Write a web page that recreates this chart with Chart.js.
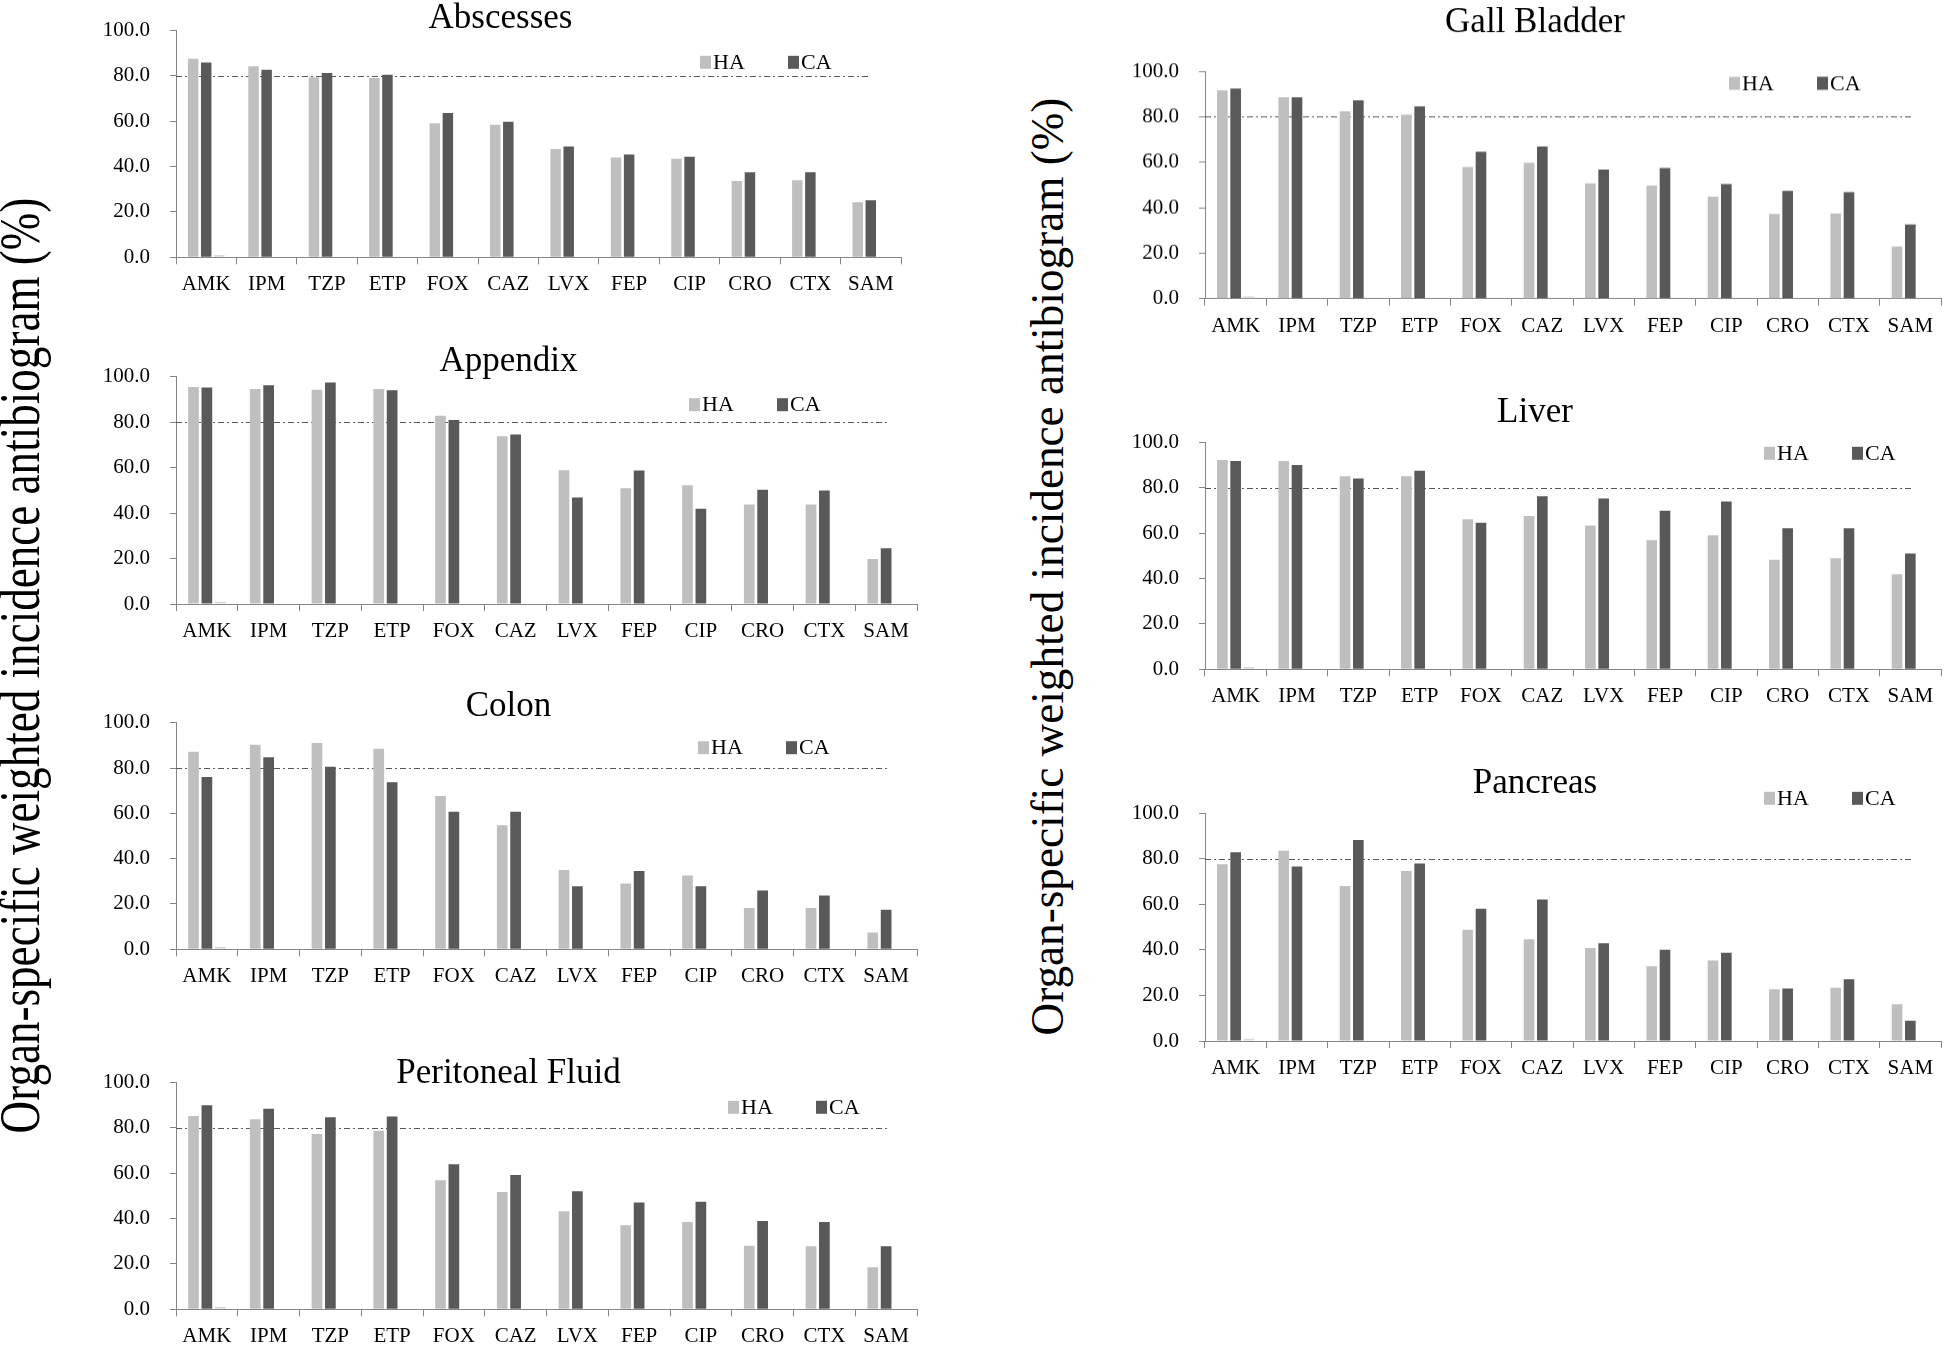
<!DOCTYPE html>
<html>
<head>
<meta charset="utf-8">
<script src="https://cdn.jsdelivr.net/npm/chart.js@4.4.1/dist/chart.umd.min.js"></script>
<style>
    body { margin: 0; width: 1946px; height: 1346px; background: #fff; position: relative; overflow: hidden; }
    .panel { position: absolute; }
    .ytitle { position: absolute; white-space: nowrap; font-family: "Liberation Serif", "Times New Roman", serif; line-height: 1; color: #000; }
</style>
</head>
<body>
<div class="ytitle" id="ytitle-left">Organ-specific weighted incidence antibiogram (%)</div>
<div class="ytitle" id="ytitle-right">Organ-specific weighted incidence antibiogram (%)</div>
<script>
// categories (antibiotics) and tick settings
const categories = ["AMK", "IPM", "TZP", "ETP", "FOX", "CAZ", "LVX", "FEP", "CIP", "CRO", "CTX", "SAM"];
const yMin = 0, yMax = 100, yStep = 20;
const threshold = 80;
const seriesNames = ["HA", "CA"];

// values, % susceptible
const abscessesHA = [87.5, 84.2, 79.3, 79.0, 59.1, 58.4, 47.7, 44.0, 43.4, 33.6, 33.9, 24.3];
const abscessesCA = [85.8, 82.6, 81.2, 80.4, 63.6, 59.7, 48.8, 45.3, 44.3, 37.5, 37.5, 25.1];
const appendixHA = [95.5, 94.6, 94.3, 94.6, 82.8, 73.8, 58.8, 50.9, 52.2, 43.8, 43.8, 19.8];
const appendixCA = [95.3, 96.2, 97.5, 94.0, 80.9, 74.6, 46.9, 58.7, 41.9, 50.3, 49.9, 24.5];
const colonHA = [87.2, 90.3, 91.0, 88.5, 67.6, 54.7, 35.0, 29.0, 32.6, 18.2, 18.2, 7.4];
const colonCA = [76.0, 84.7, 80.6, 73.7, 60.7, 60.7, 27.8, 34.6, 27.8, 25.9, 23.7, 17.4];
const peritonealHA = [85.2, 83.7, 77.2, 78.7, 56.8, 51.7, 43.2, 37.0, 38.5, 28.0, 27.8, 18.5];
const peritonealCA = [89.9, 88.4, 84.6, 84.9, 63.9, 59.2, 52.0, 47.1, 47.4, 38.9, 38.5, 27.8];
const gallbladderHA = [91.6, 88.5, 82.4, 80.9, 57.9, 59.7, 50.7, 49.7, 44.9, 37.2, 37.5, 22.9];
const gallbladderCA = [92.4, 88.5, 87.2, 84.6, 64.6, 66.9, 56.8, 57.4, 50.4, 47.4, 46.9, 32.6];
const liverHA = [92.2, 91.8, 85.0, 85.0, 66.1, 67.5, 63.3, 56.8, 59.0, 48.3, 48.9, 41.9];
const liverCA = [91.8, 90.0, 84.0, 87.5, 64.6, 76.2, 75.2, 69.9, 73.9, 62.1, 62.1, 51.0];
const pancreasHA = [77.6, 83.5, 68.1, 74.7, 48.9, 44.7, 40.8, 32.8, 35.4, 22.7, 23.4, 16.1];
const pancreasCA = [82.9, 76.6, 88.3, 77.9, 58.1, 62.1, 42.9, 40.1, 38.8, 23.1, 27.1, 8.9];
// the small empty third series visible next to AMK in every panel
const blankSeries = [1.0, 0, 0, 0, 0, 0, 0, 0, 0, 0, 0, 0];

const colors = { HA: "#bfbfbf", CA: "#595959", blank: "#d9d9d9", axis: "#868686", line: "#595959" };
const FONT = '"Liberation Serif", "Times New Roman", serif';

// page layout: plot box (value 100 at plotT, 0 at plotB), title baseline, legend offset
const panels = [
    { title: "Abscesses", ha: abscessesHA, ca: abscessesCA, plotL: 176, plotR: 901, plotT: 30.3, plotB: 257.3, base: 27, lgX: 524, lgY: 32 },
    { title: "Appendix", ha: appendixHA, ca: appendixCA, plotL: 176, plotR: 917, plotT: 376.7, plotB: 604, base: 370, lgX: 513, lgY: 28 },
    { title: "Colon", ha: colonHA, ca: colonCA, plotL: 176, plotR: 917, plotT: 722.7, plotB: 949.3, base: 715, lgX: 522, lgY: 25 },
    { title: "Peritoneal Fluid", ha: peritonealHA, ca: peritonealCA, plotL: 176, plotR: 917, plotT: 1082.3, plotB: 1309.3, base: 1082, lgX: 552, lgY: 25 },
    { title: "Gall Bladder", ha: gallbladderHA, ca: gallbladderCA, plotL: 1205, plotR: 1941, plotT: 71, plotB: 297.7, base: 31, lgX: 524, lgY: 12 },
    { title: "Liver", ha: liverHA, ca: liverCA, plotL: 1205, plotR: 1941, plotT: 442.3, plotB: 669.3, base: 421, lgX: 559, lgY: 11 },
    { title: "Pancreas", ha: pancreasHA, ca: pancreasCA, plotL: 1205, plotR: 1941, plotT: 813.3, plotB: 1041, base: 792, lgX: 559, lgY: -15 }
];

const Y_W = 76, X_H = 42, TITLE_SIZE = 35, PAD_R = 3;
const TITLE_ROOM = 36;   // space kept above the title baseline
const TITLE_LH = 2 * (TITLE_ROOM - 8.3);

Chart.defaults.font.family = FONT;
Chart.defaults.color = "#000";

// dash-dot line at 80 %, drawn behind the bars
const thresholdLine = {
    id: "thresholdLine",
    beforeDatasetsDraw(chart) {
        const { ctx, chartArea } = chart;
        const y = Math.round(chart.scales.y.getPixelForValue(threshold)) + 0.5;
        ctx.save();
        ctx.strokeStyle = colors.line;
        ctx.lineWidth = 1;
        ctx.setLineDash([6, 3, 2, 3]);
        ctx.beginPath();
        ctx.moveTo(chartArea.left, y);
        ctx.lineTo(chartArea.right - 30, y);
        ctx.stroke();
        ctx.restore();
    }
};

// small legend inside the plot, upper right
const innerLegend = {
    id: "innerLegend",
    afterDraw(chart, args, opts) {
        const { ctx, chartArea } = chart;
        ctx.save();
        ctx.font = "22px " + FONT;
        ctx.textBaseline = "middle";
        ctx.textAlign = "left";
        for (let i = 0; i < 2; i++) {
            const ds = chart.data.datasets[i];
            const x = chartArea.left + opts.dx + i * 88;
            const y = chartArea.top + opts.dy;
            ctx.fillStyle = ds.backgroundColor;
            ctx.fillRect(x, y - 6.5, 11, 13);
            ctx.fillStyle = "#000";
            ctx.fillText(ds.label, x + 13, y + 1);
        }
        ctx.restore();
    }
};

panels.forEach((p) => {
    const left = p.plotL - Y_W;
    const top = p.base - TITLE_ROOM;
    // bottom padding may go negative so the plot can start beside the title
    const pb = p.plotT - top - TITLE_LH;
    const div = document.createElement("div");
    div.className = "panel";
    div.style.left = left + "px";
    div.style.top = top + "px";
    div.style.width = (p.plotR - left + PAD_R) + "px";
    div.style.height = (p.plotB + X_H - top) + "px";
    const canvas = document.createElement("canvas");
    div.appendChild(canvas);
    document.body.appendChild(div);

    new Chart(canvas, {
        type: "bar",
        data: {
            labels: categories,
            datasets: [
                { label: seriesNames[0], data: p.ha, backgroundColor: colors.HA },
                { label: seriesNames[1], data: p.ca, backgroundColor: colors.CA },
                { label: "", data: blankSeries, backgroundColor: colors.blank }
            ]
        },
        options: {
            responsive: true,
            maintainAspectRatio: false,
            animation: false,
            layout: { padding: { left: 0, right: PAD_R, top: 0, bottom: 0 } },
            datasets: { bar: { categoryPercentage: 0.65, barPercentage: 0.8, borderWidth: 0 } },
            plugins: {
                legend: { display: false },
                tooltip: { enabled: false },
                title: {
                    display: true,
                    text: p.title,
                    color: "#000",
                    font: { size: TITLE_SIZE, weight: "normal", family: FONT, lineHeight: TITLE_LH / TITLE_SIZE },
                    padding: { top: 0, bottom: pb }
                },
                innerLegend: { dx: p.lgX, dy: p.lgY }
            },
            scales: {
                x: {
                    grid: { display: true, drawOnChartArea: false, offset: true, tickLength: 7, color: colors.axis },
                    border: { display: true, color: colors.axis, width: 1 },
                    ticks: { font: { size: 21, family: FONT }, color: "#000", padding: 8, maxRotation: 0, autoSkip: false },
                    afterFit(scale) { scale.height = X_H; }
                },
                y: {
                    min: yMin,
                    max: yMax,
                    grid: { display: true, drawOnChartArea: false, tickLength: 6, color: colors.axis },
                    border: { display: true, color: colors.axis, width: 1 },
                    ticks: { stepSize: yStep, font: { size: 21, family: FONT }, color: "#000", padding: 20,
                        callback: (v) => v.toFixed(1) },
                    afterFit(scale) {
                        scale.width = Y_W;
                        // the title box already leaves room for the top label
                        scale.paddingTop = 0;
                        scale.paddingBottom = 0;
                    }
                }
            }
        },
        plugins: [thresholdLine, innerLegend]
    });
});

// rotated axis titles, one for each column
function placeTitle(id, size, cx, cy, length, stretch) {
    const el = document.getElementById(id);
    el.style.fontSize = size + "px";
    const w = el.offsetWidth, h = el.offsetHeight;
    el.style.left = (cx - w / 2) + "px";
    el.style.top = (cy - h / 2) + "px";
    el.style.transform = "rotate(-90deg) scale(" + (length / w).toFixed(4) + "," + stretch + ")";
}
placeTitle("ytitle-left", 45, 21, 665, 936, 1.28);
placeTitle("ytitle-right", 45, 1048, 566, 938, 1.01);
</script>
</body>
</html>
